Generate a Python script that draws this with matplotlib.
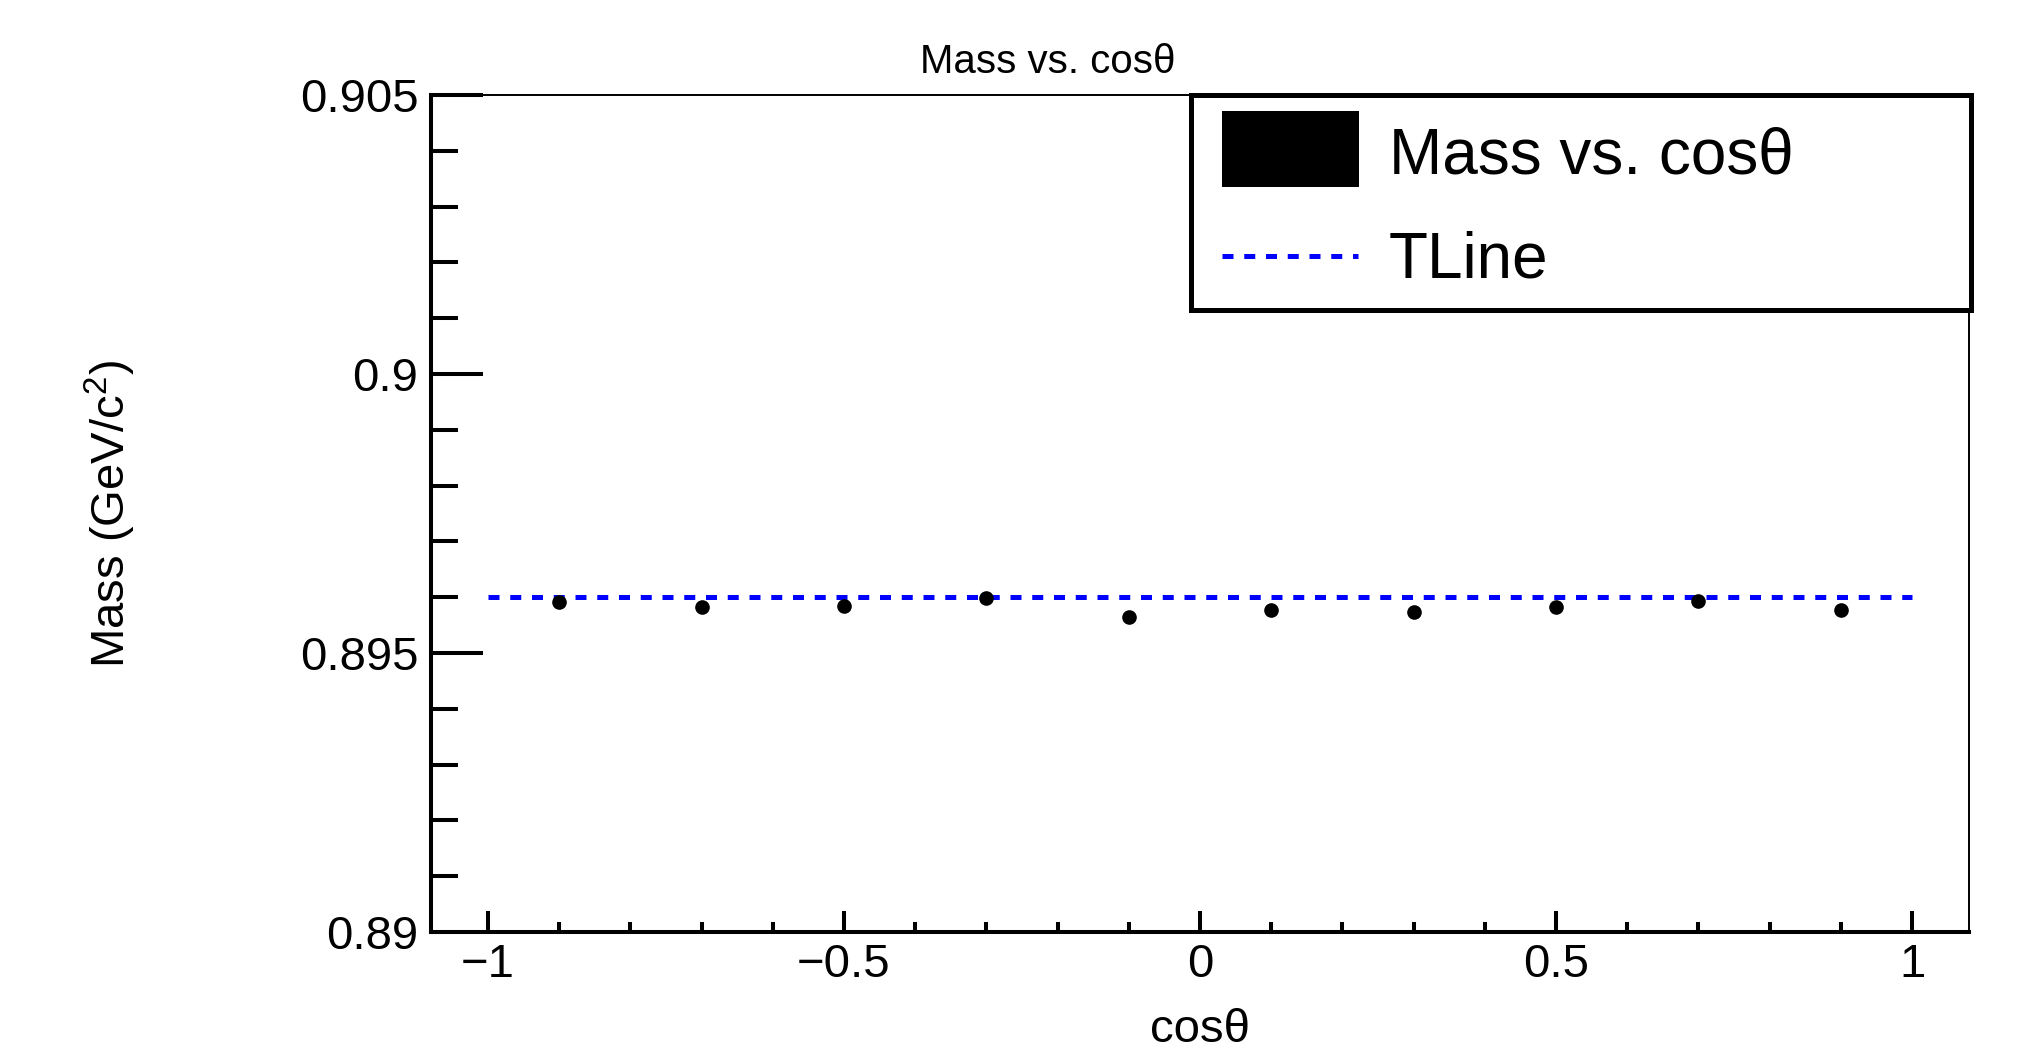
import numpy as np
import matplotlib.pyplot as plt
from matplotlib.patches import Rectangle
from matplotlib.lines import Line2D

plt.rcParams['font.family'] = ['Liberation Sans', 'DejaVu Sans']
plt.rcParams['mathtext.fontset'] = 'custom'
plt.rcParams['mathtext.rm'] = 'Liberation Sans'
plt.rcParams['mathtext.default'] = 'regular'

# data
cos_theta = [-0.9, -0.7, -0.5, -0.3, -0.1, 0.1, 0.3, 0.5, 0.7, 0.9]
mass = [0.89591, 0.89582, 0.89585, 0.89598, 0.89565,
        0.89577, 0.89574, 0.89582, 0.89594, 0.89577]
ref_mass = 0.896
line_x = [-1, 1]

xticks = [-1, -0.5, 0, 0.5, 1]
xticklabels = ['\u22121', '\u22120.5', '0', '0.5', '1']
yticks = [0.89, 0.895, 0.9, 0.905]
yticklabels = ['0.89', '0.895', '0.9', '0.905']

W, H = 2024, 1052
fig = plt.figure(figsize=(W / 100, H / 100), dpi=100)
ax = fig.add_axes([431 / W, 1 - 932 / H, (1969 - 431) / W, (932 - 95) / H])

ax.plot(line_x, [ref_mass, ref_mass], color='#0000ff', lw=3.6,
        linestyle=(0, (2.2, 2.15)), dash_capstyle='butt', zorder=2)
ax.plot(cos_theta, mass, 'o', color='black', markersize=9.5, zorder=3)

ax.set_xlim(-1.08, 1.08)
ax.set_ylim(0.89, 0.905)
ax.set_xticks(xticks, xticklabels)
ax.set_yticks(yticks, yticklabels)
ax.set_xticks(np.arange(-1.0, 1.01, 0.1), minor=True)
ax.set_yticks(np.arange(0.89, 0.9051, 0.001), minor=True)

ax.tick_params(axis='both', which='both', direction='in', top=False, right=False,
               width=2.9, color='black')
ax.tick_params(axis='y', which='major', length=37.5, pad=9, labelsize=34)
ax.tick_params(axis='y', which='minor', length=19.5)
ax.tick_params(axis='x', which='major', length=15, pad=8, labelsize=34)
ax.tick_params(axis='x', which='minor', length=7)

ax.spines['left'].set_linewidth(2.9)
ax.spines['bottom'].set_linewidth(2.9)
ax.spines['top'].set_linewidth(1.4)
ax.spines['right'].set_linewidth(1.4)

# axis titles and plot title
fig.text(1048 / W, 1 - 73 / H, 'Mass vs. cos\u03b8', ha='center', va='baseline',
         fontsize=29)
fig.text(1200 / W, 1 - 1042 / H, 'cos\u03b8', ha='center', va='baseline', fontsize=34)
fig.text(110 / W, 1 - 514 / H, 'Mass (GeV/c$^{2}$)', rotation=90,
         ha='center', va='center', fontsize=34)

# legend box
fig.add_artist(Rectangle((1191 / W, 1 - 310 / H), 780 / W, 215 / H,
                         transform=fig.transFigure, facecolor='white',
                         edgecolor='black', lw=3.6, zorder=5))
fig.add_artist(Rectangle((1222 / W, 1 - 187 / H), 137 / W, 76 / H,
                         transform=fig.transFigure, facecolor='black',
                         edgecolor='none', zorder=6))
fig.add_artist(Line2D([1222 / W, 1358 / W], [1 - 256 / H, 1 - 256 / H],
                      transform=fig.transFigure, color='#0000ff', lw=3.6,
                      linestyle=(0, (2.2, 2.15)), dash_capstyle='butt', zorder=6))
fig.text(1389 / W, 1 - 173 / H, 'Mass vs. cos\u03b8', ha='left', va='baseline',
         fontsize=46, zorder=7)
fig.text(1389 / W, 1 - 278 / H, 'TLine', ha='left', va='baseline',
         fontsize=46, zorder=7)

fig.savefig('out.png', dpi=100)
